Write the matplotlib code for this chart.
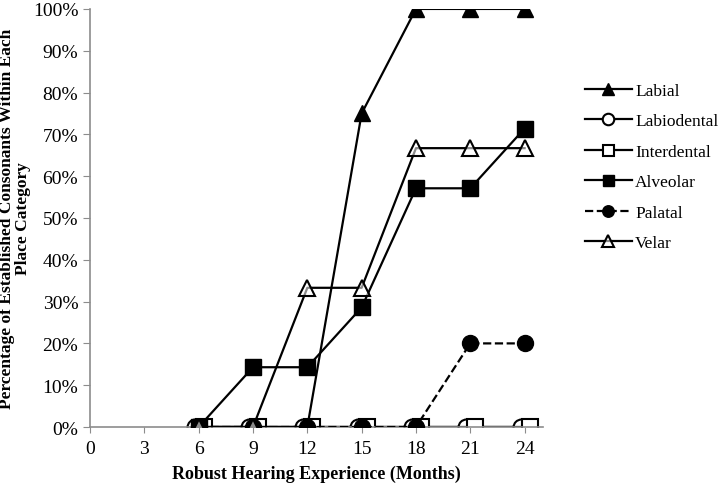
import matplotlib.pyplot as plt
import matplotlib.transforms as mtransforms
from matplotlib.ticker import PercentFormatter

plt.rcParams['font.family'] = ['Liberation Serif', 'DejaVu Serif']

months = [6, 9, 12, 15, 18, 21, 24]
labial = [0, 0, 0, 75, 100, 100, 100]
labiodental = [0, 0, 0, 0, 0, 0, 0]
interdental = [0, 0, 0, 0, 0, 0, 0]
alveolar = [0, 14.3, 14.3, 28.6, 57.1, 57.1, 71.4]
palatal = [0, 0, 0, 0, 0, 20, 20]
velar = [0, 0, 33.3, 33.3, 66.7, 66.7, 66.7]

fig = plt.figure(figsize=(7.22, 4.85), dpi=100)
ax = fig.add_axes([0.1247, 0.1175, 0.627, 0.862])

def shifted(dx):
    # small horizontal nudge in pixels so overlapping markers stay visible
    return ax.transData + mtransforms.ScaledTranslation(dx / 100, 0, fig.dpi_scale_trans)

ax.plot(months, labial, '-', color='black', lw=1.6, marker='^', ms=12,
        mfc='black', mec='black', label='Labial', zorder=3)
ax.plot(months, labiodental, '-', color='black', lw=1.6, marker='o', ms=11.5,
        mfc='white', mec='black', mew=1.5, label='Labiodental', transform=shifted(-4), zorder=2)
ax.plot(months, interdental, '-', color='black', lw=1.6, marker='s', ms=11,
        mfc='white', mec='black', mew=1.5, label='Interdental', transform=shifted(5), zorder=2)
ax.plot(months, alveolar, '-', color='black', lw=1.6, marker='s', ms=11,
        mfc='black', mec='black', label='Alveolar', zorder=3)
ax.plot(months, palatal, '--', color='black', lw=1.6, marker='o', ms=11.5,
        mfc='black', mec='black', label='Palatal', zorder=3)
ax.plot(months, velar, '-', color='black', lw=1.6, marker='^', ms=12,
        mfc=(1, 1, 1, 0.55), mec='black', mew=1.5, label='Velar', zorder=4)

ax.set_xlim(0, 25)
ax.set_ylim(0, 100)
ax.set_xticks(range(0, 25, 3))
ax.set_yticks(range(0, 101, 10))
ax.yaxis.set_major_formatter(PercentFormatter(decimals=0))

for s in ['top', 'right']:
    ax.spines[s].set_visible(False)
for s in ['left', 'bottom']:
    ax.spines[s].set_color('#8c8c8c')
    ax.spines[s].set_linewidth(1.2)
ax.tick_params(axis='y', colors='#8c8c8c', labelcolor='black', length=5, labelsize=14)
ax.tick_params(axis='x', colors='#8c8c8c', labelcolor='black', length=4, labelsize=14, pad=5)

ax.set_xlabel('Robust Hearing Experience (Months)', fontsize=13, fontweight='bold', labelpad=6)
ax.set_ylabel('Percentage of Established Consonants Within Each\nPlace Category',
              fontsize=12.5, fontweight='bold', labelpad=1, linespacing=1.0)

ax.legend(loc='upper left', bbox_to_anchor=(0.81, 0.827), bbox_transform=fig.transFigure,
          frameon=False, fontsize=12.5, borderaxespad=0, borderpad=0, markerscale=0.72,
          handlelength=2.7, labelspacing=0.82, handletextpad=0.2)

fig.savefig('out.png', dpi=100)
